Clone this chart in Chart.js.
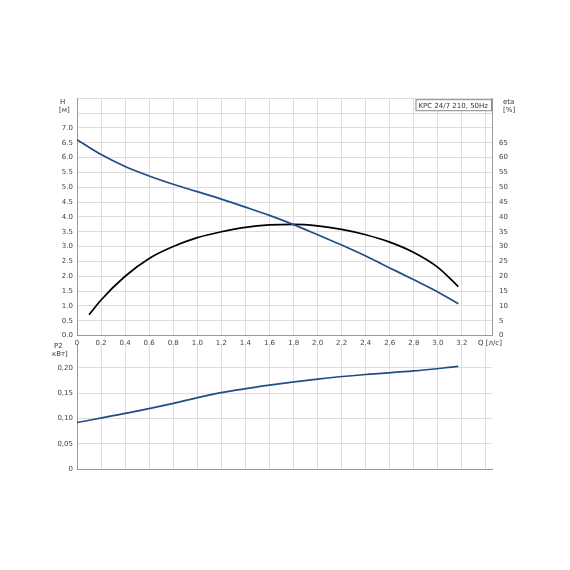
<!DOCTYPE html>
<html><head><meta charset="utf-8">
<script src="https://cdn.jsdelivr.net/npm/chart.js@4/dist/chart.umd.min.js"></script>
<style>
body{margin:0;background:#fff;}
canvas{position:absolute;}
</style></head><body>
<canvas id="top" style="left:40px;top:90px;width:490px;height:260px" width="490" height="260"></canvas>
<canvas id="bot" style="left:40px;top:337px;width:490px;height:145px" width="490" height="145"></canvas>
<script>
const qH = [0, 0.2, 0.4, 0.6, 0.8, 1.0, 1.2, 1.4, 1.6, 1.8, 2.0, 2.2, 2.4, 2.6, 2.8, 3.0, 3.17];
const head = [6.6, 6.1, 5.7, 5.38, 5.1, 4.85, 4.6, 4.33, 4.05, 3.74, 3.4, 3.05, 2.68, 2.28, 1.88, 1.47, 1.07];
const qEta = [0.1, 0.2, 0.4, 0.6, 0.8, 1.0, 1.2, 1.4, 1.6, 1.8, 2.0, 2.2, 2.4, 2.6, 2.8, 3.0, 3.17];
const eta = [7, 12, 20, 26, 30, 33, 35, 36.5, 37.3, 37.5, 37, 35.8, 34, 31.5, 28, 23, 16.5];
const qP = [0, 0.4, 0.8, 1.2, 1.6, 2.0, 2.4, 2.8, 3.17];
const power = [0.092, 0.11, 0.13, 0.151, 0.166, 0.178, 0.187, 0.194, 0.203];

const pts = (xs, ys) => xs.map((x, i) => ({x: x, y: ys[i]}));
const font = {family: "DejaVu Sans", size: 7};
const grid = {color: "#dddddd", drawTicks: false};
const fixW = w => function(a){ a.width = w; };

const labels = {
  id: "labels",
  afterDraw(c) {
    const ctx = c.ctx;
    const o = c.options.plugins.labels;
    ctx.save();
    ctx.font = "7px DejaVu Sans";
    ctx.fillStyle = "#333";
    o.texts.forEach(t => { ctx.textAlign = t.align || "left"; ctx.fillText(t.s, t.x, t.y); });
    if (o.box) {
      const a = c.chartArea;
      const s = "KPC 24/7 210, 50Hz";
      const w = ctx.measureText(s).width + 6;
      ctx.fillStyle = "#fff";
      ctx.fillRect(a.right - w - 1, a.top + 1, w, 11);
      ctx.strokeStyle = "#888";
      ctx.strokeRect(a.right - w - 1 + 0.5, a.top + 1.5, w, 11);
      ctx.fillStyle = "#333";
      ctx.textAlign = "left";
      ctx.fillText(s, a.right - w + 2, a.top + 10);
    }
    ctx.restore();
  }
};

const xScale = (show) => ({
  type: "linear", min: 0, max: 3.45,
  afterBuildTicks: a => { a.ticks = []; for (let i = 0; i <= 17; i++) a.ticks.push({value: +(i * 0.2).toFixed(1)}); },
  ticks: {display: show, font: font, color: "#444", padding: 3,
    callback: v => v > 3.25 ? "" : (v === 0 ? "0" : v.toFixed(1))},
  grid: grid, border: {color: "#999"}
});

new Chart(document.getElementById("top"), {
  type: "line",
  data: {datasets: [
    {data: pts(qH, head), yAxisID: "y", borderColor: "#1f4e86", borderWidth: 1.7, pointRadius: 0, cubicInterpolationMode: "monotone"},
    {data: pts(qEta, eta), yAxisID: "y2", borderColor: "#000", borderWidth: 1.7, pointRadius: 0, cubicInterpolationMode: "monotone"}
  ]},
  options: {
    responsive: false, animation: false,
    layout: {padding: {top: 8, bottom: 0}},
    plugins: {legend: {display: false}, tooltip: {enabled: false},
      labels: {box: true, texts: [
        {s: "H", x: 20, y: 14}, {s: "[м]", x: 19, y: 22},
        {s: "eta", x: 463, y: 14}, {s: "[%]", x: 463, y: 22},
        {s: "Q [л/с]", x: 438, y: 255}
      ]}},
    scales: {
      x: xScale(true),
      y: {min: 0, max: 8, afterFit: fixW(37),
        ticks: {stepSize: 0.5, font: font, color: "#444", padding: 4, callback: v => v > 7 ? "" : v.toFixed(1)},
        grid: grid, border: {color: "#999"}},
      y2: {position: "right", min: 0, max: 80, afterFit: fixW(38),
        afterBuildTicks: a => { a.ticks = []; for (let v = 0; v <= 65; v += 5) a.ticks.push({value: v}); },
        ticks: {font: font, color: "#444", padding: 4},
        grid: {display: false, drawTicks: true, tickLength: 3}, border: {color: "#999"}}
    }
  },
  plugins: [labels]
});

new Chart(document.getElementById("bot"), {
  type: "line",
  data: {datasets: [
    {data: pts(qP, power), borderColor: "#1f4e86", borderWidth: 1.7, pointRadius: 0, cubicInterpolationMode: "monotone"}
  ]},
  options: {
    responsive: false, animation: false,
    layout: {padding: {top: 8, bottom: 13, right: 38}},
    plugins: {legend: {display: false}, tooltip: {enabled: false},
      labels: {texts: [{s: "P2", x: 14, y: 11}, {s: "кВт]", x: 12, y: 19}]}},
    scales: {
      x: xScale(false),
      y: {min: 0, max: 0.245, afterFit: fixW(37),
        afterBuildTicks: a => { a.ticks = []; for (let i = 0; i <= 4; i++) a.ticks.push({value: i * 0.05}); },
        ticks: {font: font, color: "#444", padding: 4, callback: v => v === 0 ? "0" : v.toFixed(2).replace(".", ",")},
        grid: grid, border: {color: "#999"}}
    }
  },
  plugins: [labels]
});
</script>
</body></html>
